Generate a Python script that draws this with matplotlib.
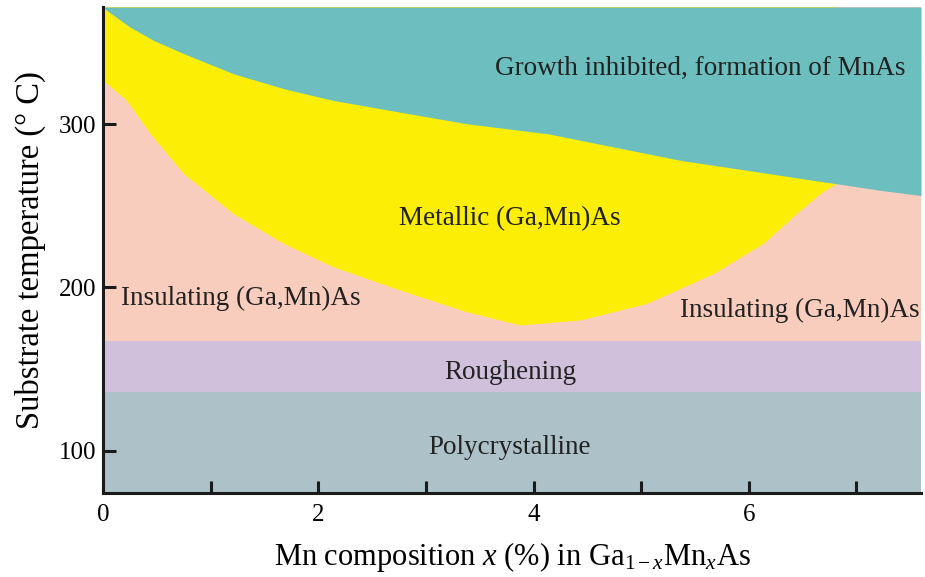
import numpy as np
import matplotlib
matplotlib.use("Agg")
import matplotlib.pyplot as plt

plt.rcParams['font.family'] = ['Liberation Serif', 'DejaVu Serif']
plt.rcParams['mathtext.fontset'] = 'custom'
plt.rcParams['mathtext.rm'] = 'Liberation Serif'
plt.rcParams['mathtext.it'] = 'Liberation Serif:italic'

# Data
x_min, x_max = 0.0, 7.6
y_min, y_max = 74.0, 372.0
poly_top = 136.0          # Polycrystalline upper limit
rough_top = 167.0         # Roughening upper limit

# Boundary between growth-inhibited (MnAs) region and the rest
mnas_x = [0.0, 0.034, 0.25, 0.47, 0.75, 1.21, 1.68, 2.14, 2.76, 3.38, 3.88, 4.13,
          4.75, 5.37, 5.99, 6.61, 6.82, 7.23, 7.6]
mnas_y = [372, 369.9, 359.7, 351.5, 343.4, 331.1, 321.9, 314.7, 307.5, 300.4, 296.3, 294.3,
          286.1, 277.9, 271.8, 265.6, 263.6, 259.5, 256.4]

# Lower boundary of metallic region
met_x = [0.0, 0.22, 0.44, 0.75, 1.21, 1.68, 2.14, 2.76, 3.38, 3.88, 4.44, 5.06,
         5.68, 6.14, 6.45, 6.67, 6.82]
met_y = [327, 314.7, 294.3, 269.8, 245.2, 226.8, 212.5, 198.2, 184.9, 176.7, 179.8, 190,
         208.4, 226.8, 245.2, 257.5, 263.6]

labels = ["Growth inhibited, formation of MnAs", "Metallic (Ga,Mn)As",
          "Insulating (Ga,Mn)As", "Insulating (Ga,Mn)As", "Roughening", "Polycrystalline"]
label_x = [5.55, 3.78, 1.28, 6.47, 3.78, 3.78]
label_y = [334.4, 242.3, 193.3, 186.0, 147.9, 101.8]

x_ticks = [0, 2, 4, 6]
x_minor = [1, 3, 5, 7]
y_ticks = [100, 200, 300]

c_poly = '#adc1c9'
c_rough = '#d0c0dc'
c_pink = '#f9cdbd'
c_yellow = '#fdee06'
c_teal = '#6dbfbf'

fig = plt.figure(figsize=(9.25, 5.77), dpi=100)
ax = fig.add_axes([0.1114, 0.1456, 0.9957 - 0.1114, 0.9879 - 0.1456])

xs = np.array([x_min, x_max])
ax.fill_between(xs, y_min, poly_top, color=c_poly, lw=0)
ax.fill_between(xs, poly_top, rough_top, color=c_rough, lw=0)
ax.fill_between(xs, rough_top, y_max, color=c_pink, lw=0)

# metallic region polygon: lower boundary then closed along the top
px = list(met_x) + [met_x[-1], met_x[0]]
py = list(met_y) + [y_max, y_max]
ax.fill(px, py, color=c_yellow, lw=0)

ax.fill_between(mnas_x, mnas_y, y_max, color=c_teal, lw=0)

for t, lx, ly in zip(labels, label_x, label_y):
    ax.text(lx, ly, t, ha='center', va='center', fontsize=19.5, color='#222222')

ax.set_xlim(x_min, x_max)
ax.set_ylim(y_min, y_max)
ax.set_xticks(x_ticks)
ax.set_xticks(x_minor, minor=True)
ax.set_yticks(y_ticks)
for s in ['top', 'right']:
    ax.spines[s].set_visible(False)
for s in ['left', 'bottom']:
    ax.spines[s].set_linewidth(2.2)
    ax.spines[s].set_color('#1a1a1a')
ax.tick_params(axis='both', which='both', direction='in', length=9, width=2.2,
               color='#1a1a1a', labelsize=18)
ax.tick_params(axis='x', pad=8)
ax.tick_params(axis='y', pad=5)

ax.set_xlabel("Mn composition $x$ (%) in Ga$_{\\mathit{1-x}}$Mn$_x$As", fontsize=22, labelpad=10)
ax.set_ylabel("Substrate temperature (° C)", fontsize=23.5, labelpad=9)

fig.savefig("out.png", dpi=100)
